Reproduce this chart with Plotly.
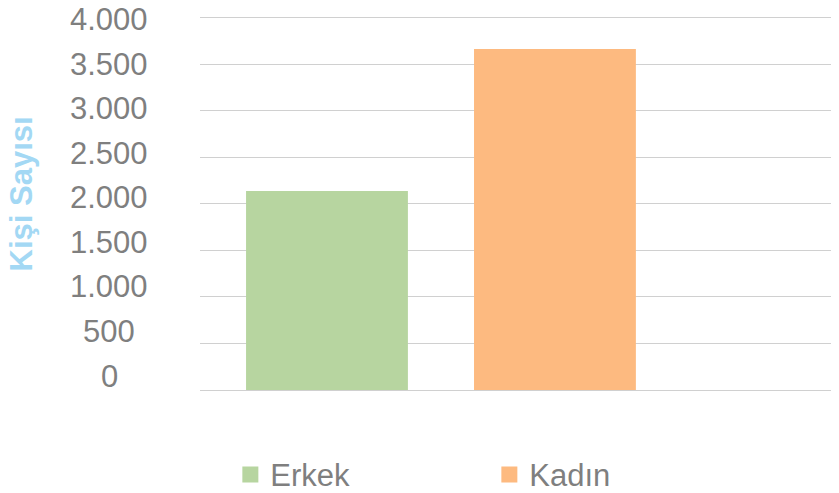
import plotly.graph_objects as go

categories = ["Erkek", "Kadın"]
values = [2140, 3667]
colors = ["#B7D5A0", "#FDBA80"]
tick_vals = [0, 500, 1000, 1500, 2000, 2500, 3000, 3500, 4000]
tick_text = ["0", "500", "1.000", "1.500", "2.000", "2.500", "3.000", "3.500", "4.000"]
y_title = "Kişi Sayısı"

FONT = "Liberation Sans, Arial, sans-serif"
GRAY = "#7F7F7F"

fig = go.Figure()
fig.add_trace(go.Bar(x=categories, y=values, marker=dict(color=colors, line=dict(width=0)),
                     width=0.71, showlegend=False, hoverinfo="x+y"))
for c, col in zip(categories, colors):
    fig.add_trace(go.Scatter(x=[None], y=[None], mode="markers", name=c,
                             marker=dict(symbol="square", size=16, color=col)))

ymax = tick_vals[-1]
annotations = []
for v, t in zip(tick_vals, tick_text):
    # labels sit slightly above their gridlines, less so towards the top
    annotations.append(dict(x=-0.1424, xref="paper", y=v, yref="y", text=t, showarrow=False,
                            xanchor="center", yanchor="middle", yshift=14 - 16 * v / ymax,
                            font=dict(family=FONT, size=31, color=GRAY)))
annotations.append(dict(x=-0.2786, xref="paper", y=0.524, yref="paper", text="<b>%s</b>" % y_title,
                        showarrow=False, textangle=-90, xanchor="center", yanchor="middle",
                        font=dict(family=FONT, size=31, color="#A3D8F4")))

fig.update_layout(
    width=831, height=485,
    margin=dict(l=192, r=0, t=7, b=103, autoexpand=False),
    paper_bgcolor="white", plot_bgcolor="white",
    xaxis=dict(type="category", range=[-0.557, 2.246], showticklabels=False, showgrid=False,
               zeroline=False, showline=False, ticks=""),
    yaxis=dict(range=[0, 4032], tickvals=tick_vals, showticklabels=False, showgrid=True,
               gridcolor="#D0D0D0", gridwidth=1, zeroline=True, zerolinecolor="#D0D0D0",
               zerolinewidth=1, showline=False, ticks=""),
    legend=dict(orientation="h", x=0.0475, xanchor="left", y=-0.154, yanchor="top",
                font=dict(family=FONT, size=31, color=GRAY),
                entrywidth=214, entrywidthmode="pixels", bgcolor="rgba(0,0,0,0)"),
    annotations=annotations,
    font=dict(family=FONT),
)

fig.write_html("out.html")
